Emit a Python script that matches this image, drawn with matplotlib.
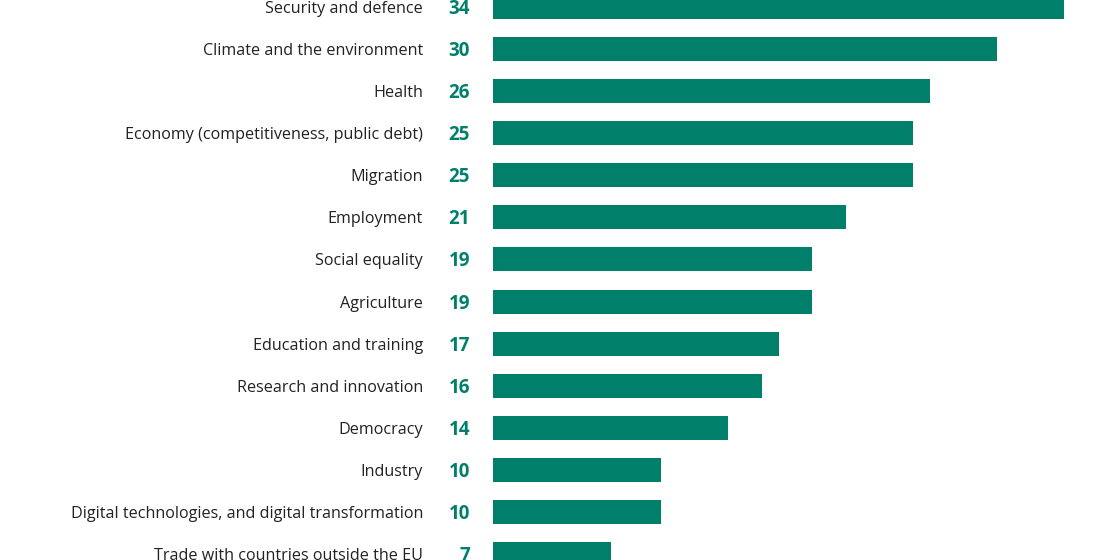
import matplotlib.pyplot as plt

categorias = ['Security and defence', 'Climate and the environment', 'Health',
              'Economy (competitiveness, public debt)', 'Migration', 'Employment',
              'Social equality', 'Agriculture', 'Education and training',
              'Research and innovation', 'Democracy', 'Industry',
              'Digital technologies, and digital transformation',
              'Trade with countries outside the EU']
valores = [34, 30, 26, 25, 25, 21, 19, 19, 17, 16, 14, 10, 10, 7]

verde = '#00806A'
plt.rcParams['font.family'] = ['Open Sans', 'DejaVu Sans']

fig = plt.figure(figsize=(11.2, 5.6), dpi=100)
ax = fig.add_axes([493 / 1120, 0, 627 / 1120, 1])

pos = list(range(len(categorias)))
ax.barh(pos, valores, height=0.57, color=verde)

ax.set_xlim(0, 627 / 16.8)
ax.set_ylim((560 - 7) / 42.08, -7 / 42.08)
ax.axis('off')

for i, (cat, v) in enumerate(zip(categorias, valores)):
    ax.annotate(str(v), (0, i), xytext=(-23, -2), textcoords='offset pixels',
                ha='right', va='center', fontsize=13.5, fontweight='bold', color=verde)
    ax.annotate(cat, (0, i), xytext=(-70, -2), textcoords='offset pixels',
                ha='right', va='center', fontsize=11.6, color='#222222')

fig.savefig('out.png', dpi=100)
